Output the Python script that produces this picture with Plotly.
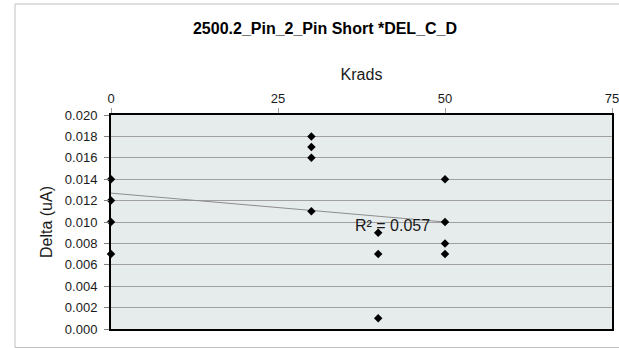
import plotly.graph_objects as go

# Data
krads = [0, 0, 0, 0, 30, 30, 30, 30, 40, 40, 40, 50, 50, 50, 50]
delta = [0.014, 0.012, 0.010, 0.007,
         0.018, 0.017, 0.016, 0.011,
         0.009, 0.007, 0.001,
         0.014, 0.010, 0.008, 0.007]
trend_x = [0, 50]
trend_y = [0.0127, 0.0100]
r2_label = "R² = 0.057"
x_ticks = [0, 25, 50, 75]
y_ticks = [0.000, 0.002, 0.004, 0.006, 0.008, 0.010,
           0.012, 0.014, 0.016, 0.018, 0.020]

W, H = 619, 348
L, R, T, B = 111, 7, 115, 19
pw, ph = W - L - R, H - T - B

fig = go.Figure()
fig.add_trace(go.Scatter(x=trend_x, y=trend_y, mode="lines",
                         line=dict(color="#8C8C8C", width=1),
                         hoverinfo="skip", showlegend=False))
fig.add_trace(go.Scatter(x=krads, y=delta, mode="markers",
                         marker=dict(symbol="diamond", size=6.5, color="black"),
                         cliponaxis=False, showlegend=False))

fig.add_annotation(x=42.1, y=0.00968, text=r2_label, showarrow=False,
                   xref="x", yref="y",
                   font=dict(family="Liberation Sans, Arial", size=16, color="#1a1a1a"))

# outer chart border
def px_x(p):
    return (p - L) / pw

def px_y(p):
    return (H - B - p) / ph

fig.add_shape(type="rect", xref="paper", yref="paper",
              x0=px_x(15), x1=px_x(630), y0=px_y(347.5), y1=px_y(4),
              line=dict(color="#BFBFBF", width=1), layer="below")

fig.update_layout(
    template="none",
    width=W, height=H,
    margin=dict(l=L, r=R, t=T, b=B),
    paper_bgcolor="white",
    plot_bgcolor="#E6ECEC",
    font=dict(family="Liberation Sans, Arial", color="#1a1a1a"),
    title=dict(text="<b>2500.2_Pin_2_Pin Short *DEL_C_D</b>",
               x=325 / W, xanchor="center", xref="container",
               y=1 - 28 / H, yanchor="middle", yref="container",
               font=dict(size=16, color="black")),
    xaxis=dict(side="top", range=[0, 75], tickvals=x_ticks,
               ticktext=[str(v) for v in x_ticks],
               automargin=False, ticklabeloverflow="allow",
               showgrid=False, zeroline=False,
               showline=True, linecolor="black", linewidth=2, mirror=True,
               ticks="outside", ticklen=5, tickcolor="#A0A0A0",
               tickfont=dict(size=13),
               title=dict(text="Krads", font=dict(size=16), standoff=6)),
    yaxis=dict(range=[0, 0.020], tickvals=y_ticks,
               ticktext=[f"{v:.3f}" for v in y_ticks],
               automargin=False, ticklabeloverflow="allow",
               showgrid=True, gridcolor="#A0A0A0", gridwidth=1,
               zeroline=False,
               showline=True, linecolor="black", linewidth=2, mirror=True,
               ticks="outside", ticklen=5, tickcolor="#808080",
               ticklabelstandoff=4,
               tickfont=dict(size=13),
               title=dict(text="Delta (uA)", font=dict(size=16), standoff=8)),
)

fig.write_html("out.html",
               config={"displayModeBar": False},
               post_script="document.body.style.margin='0px';document.body.style.overflow='hidden';")
